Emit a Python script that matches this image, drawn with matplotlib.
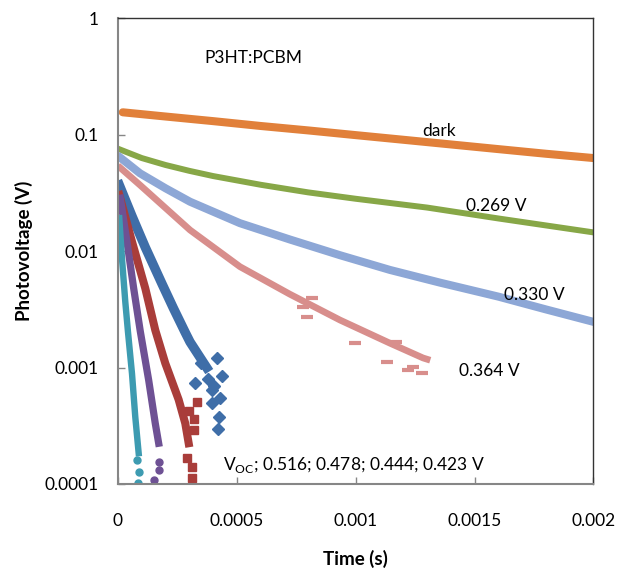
import matplotlib
matplotlib.use('Agg')
import matplotlib.pyplot as plt
from matplotlib.ticker import FixedLocator, FuncFormatter, NullLocator

plt.rcParams['font.family'] = ['Lato', 'DejaVu Sans']

# values (time in s, photovoltage in V)
dark_t = [0.00002, 0.0002, 0.0004, 0.0006, 0.0008, 0.001, 0.0012, 0.0014, 0.0016, 0.0018, 0.002]
dark_v = [0.156, 0.1435, 0.131, 0.119, 0.109, 0.0993, 0.0906, 0.0826, 0.0753, 0.0687, 0.0631]

v269_t = [0.00001, 0.0001, 0.0002, 0.0003, 0.0004, 0.0006, 0.0008, 0.001, 0.0013, 0.0016, 0.002]
v269_v = [0.0745, 0.0631, 0.055, 0.049, 0.0442, 0.0372, 0.032, 0.0282, 0.0237, 0.0191, 0.0145]

v330_t = [0.00001, 0.0000925, 0.0002, 0.000303, 0.000513, 0.000723, 0.000934, 0.001144, 0.001354, 0.0016, 0.0018, 0.002]
v330_v = [0.0635, 0.0467, 0.0347, 0.0266, 0.0174, 0.0126, 0.00923, 0.0069, 0.00537, 0.00407, 0.00316, 0.00247]

v364_t = [0.00001, 0.0000925, 0.000303, 0.000513, 0.000723, 0.000934, 0.001144, 0.001283, 0.0013]
v364_v = [0.052, 0.037, 0.0152, 0.00736, 0.00427, 0.00256, 0.00162, 0.00121, 0.00118]
v364_tail_t = [0.000779, 0.000793, 0.000814, 0.000997, 0.00113, 0.00117, 0.00122, 0.00124, 0.00128]
v364_tail_v = [0.00334, 0.00274, 0.00394, 0.00162, 0.00112, 0.00167, 0.00095, 0.00102, 0.00089]

v423_t = [0.0000055, 0.0000589, 0.0000925, 0.0001148, 0.000185, 0.000233, 0.000283, 0.000303, 0.000373]
v423_v = [0.037, 0.02, 0.0138, 0.0108, 0.00525, 0.00324, 0.002, 0.00166, 0.001]
v423_tail_t = [0.000416, 0.000395, 0.000423, 0.00042, 0.000325, 0.000437, 0.000395, 0.00035, 0.00038, 0.000405, 0.00043]
v423_tail_v = [0.00121, 0.00064, 0.000378, 0.000295, 0.00073, 0.00084, 0.000497, 0.0011, 0.0008, 0.0007, 0.00055]

v444_t = [0.0000055, 0.0000589, 0.0001148, 0.0001568, 0.0001989, 0.0002552, 0.000283, 0.0002973]
v444_v = [0.0304, 0.01207, 0.0048, 0.0021, 0.00109, 0.00053, 0.000332, 0.000224]
v444_tail_t = [0.00029, 0.000311, 0.000311, 0.000332, 0.000318, 0.0003, 0.00032]
v444_tail_v = [0.000166, 0.000141, 0.000112, 0.00051, 0.000291, 0.00042, 0.00036]

v478_t = [0.0000097, 0.0000378, 0.000066, 0.0000938, 0.0001291, 0.0001568, 0.0001711]
v478_v = [0.0285, 0.01207, 0.0048, 0.00205, 0.00078, 0.000332, 0.000224]
v478_tail_t = [0.0001711, 0.0001711, 0.0001501]
v478_tail_v = [0.000156, 0.000132, 0.000108]

v516_t = [0.0000055, 0.0000168, 0.0000307, 0.000042, 0.0000589, 0.0000727, 0.000087]
v516_v = [0.0192, 0.00869, 0.00368, 0.00203, 0.00089, 0.000378, 0.000184]
v516_tail_t = [0.000087, 0.000084, 0.000078]
v516_tail_v = [0.000128, 0.000102, 0.00016]

fig = plt.figure(figsize=(6.19, 5.74), dpi=100)
ax = fig.add_axes([0.1906, 0.1568, 0.7682, 0.8112])

ax.plot(dark_t, dark_v, color='#E1803A', lw=5.8, solid_capstyle='round')
ax.plot(v269_t, v269_v, color='#87A747', lw=4.3)
ax.plot(v330_t, v330_v, color='#8DA7D6', lw=5.8)
ax.plot(v364_t, v364_v, color='#D88E8C', lw=4.8)
ax.plot(v364_tail_t, v364_tail_v, ls='none', color='#D88E8C', marker='_', ms=8, mew=3)
ax.plot(v423_t, v423_v, color='#3F6EA8', lw=6.8)
ax.plot(v423_tail_t, v423_tail_v, ls='none', color='#3F6EA8', marker='D', ms=6)
ax.plot(v444_t, v444_v, color='#A93D3A', lw=5.8)
ax.plot(v444_tail_t, v444_tail_v, ls='none', color='#A93D3A', marker='s', ms=6)
ax.plot(v478_t, v478_v, color='#6E5194', lw=5.2)
ax.plot(v478_tail_t, v478_tail_v, ls='none', color='#6E5194', marker='o', ms=5)
ax.plot(v516_t, v516_v, color='#3D9BB1', lw=4.6)
ax.plot(v516_tail_t, v516_tail_v, ls='none', color='#3D9BB1', marker='o', ms=5)

ax.set_yscale('log')
ax.set_xlim(0, 0.002)
ax.set_ylim(0.0001, 1)
ax.xaxis.set_major_locator(FixedLocator([0, 0.0005, 0.001, 0.0015, 0.002]))
ax.yaxis.set_major_locator(FixedLocator([0.0001, 0.001, 0.01, 0.1, 1]))
ax.yaxis.set_minor_locator(NullLocator())
fmt = FuncFormatter(lambda v, p: '%g' % v)
ax.xaxis.set_major_formatter(fmt)
ax.yaxis.set_major_formatter(fmt)

ax.tick_params(axis='both', direction='in', length=5, width=1, color='#868686',
               labelsize=12.5, colors='#868686', labelcolor='black')
ax.tick_params(axis='x', pad=21)
ax.tick_params(axis='y', pad=14)
for s in ['left', 'bottom']:
    ax.spines[s].set_color('#868686')
    ax.spines[s].set_linewidth(1.5)
for s in ['top', 'right']:
    ax.spines[s].set_color('#333333')
    ax.spines[s].set_linewidth(1.0)

ax.set_xlabel('Time (s)', fontsize=13.5, fontweight='bold', labelpad=15)
ax.set_ylabel('Photovoltage (V)', fontsize=13.5, fontweight='bold', labelpad=8)

ax.text(0.000568, 0.457, 'P3HT:PCBM', fontsize=12.5, ha='center', va='center')
ax.text(0.00135, 0.107, 'dark', fontsize=12.5, ha='center', va='center')
ax.text(0.00159, 0.0245, '0.269 V', fontsize=12.5, ha='center', va='center')
ax.text(0.00175, 0.0042, '0.330 V', fontsize=12.5, ha='center', va='center')
ax.text(0.00156, 0.00093, '0.364 V', fontsize=12.5, ha='center', va='center')
ax.text(0.000441, 0.000146, r'V$_{\mathregular{OC}}$; 0.516; 0.478; 0.444; 0.423 V',
        fontsize=12.5, ha='left', va='center')

fig.savefig('out.png', dpi=100)
